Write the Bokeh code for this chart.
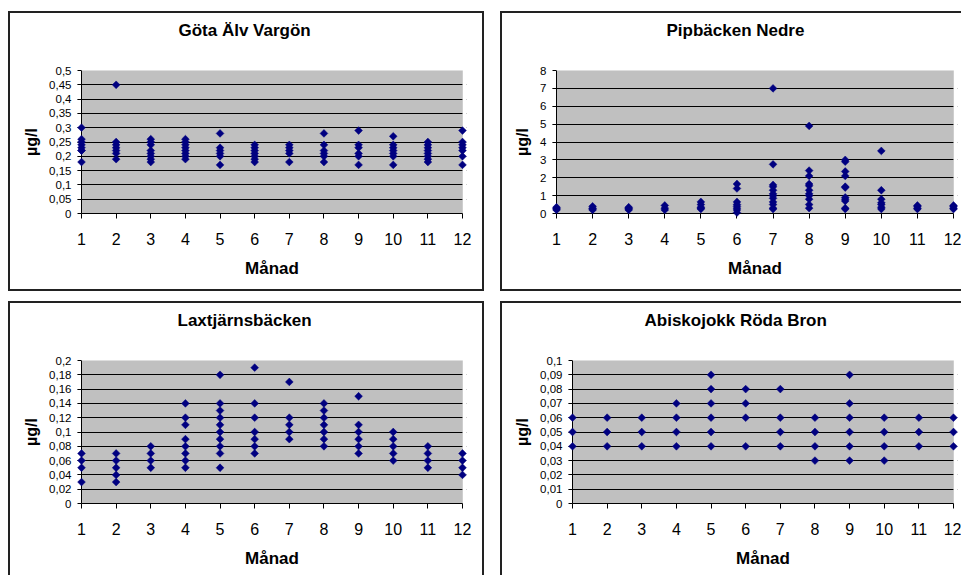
from bokeh.plotting import figure
from bokeh.layouts import column, row
from bokeh.models import BoxAnnotation, FixedTicker, Range1d, Span
from bokeh.embed import file_html
from bokeh.resources import INLINE

# ---------------------------------------------------------------- data
months = list(range(1, 13))
month_labels = [str(m) for m in months]

# measured concentrations per month (µg/l), one inner list per month
goeta_alv_vargon = [
    [0.30, 0.26, 0.25, 0.24, 0.23, 0.22, 0.22, 0.18],
    [0.45, 0.25, 0.24, 0.23, 0.22, 0.21, 0.19],
    [0.26, 0.25, 0.24, 0.22, 0.21, 0.20, 0.19, 0.18],
    [0.26, 0.25, 0.24, 0.23, 0.22, 0.21, 0.20, 0.19],
    [0.28, 0.23, 0.22, 0.21, 0.20, 0.17],
    [0.24, 0.23, 0.22, 0.21, 0.20, 0.19, 0.18],
    [0.24, 0.23, 0.22, 0.21, 0.18],
    [0.28, 0.24, 0.22, 0.21, 0.20, 0.18],
    [0.29, 0.24, 0.23, 0.21, 0.20, 0.17],
    [0.27, 0.24, 0.23, 0.22, 0.21, 0.20, 0.17],
    [0.25, 0.24, 0.23, 0.22, 0.21, 0.20, 0.19, 0.18],
    [0.29, 0.25, 0.24, 0.23, 0.22, 0.20, 0.17],
]

pipbacken_nedre = [
    [0.35, 0.3, 0.25, 0.2],
    [0.4, 0.3, 0.25, 0.2],
    [0.35, 0.3, 0.25, 0.2],
    [0.45, 0.3, 0.2],
    [0.65, 0.5, 0.35, 0.3, 0.25],
    [1.65, 1.4, 0.65, 0.5, 0.4, 0.3, 0.2, 0.05],
    [7.0, 2.75, 1.6, 1.5, 1.3, 1.1, 1.0, 0.85, 0.65, 0.5, 0.3, 0.25],
    [4.9, 2.4, 2.1, 1.65, 1.55, 1.3, 1.1, 1.0, 0.8, 0.5, 0.3],
    [3.0, 2.9, 2.35, 2.1, 1.5, 1.45, 0.9, 0.8, 0.7, 0.3, 0.25],
    [3.5, 1.3, 0.8, 0.6, 0.5, 0.35, 0.25],
    [0.45, 0.4, 0.3, 0.25],
    [0.45, 0.4, 0.3, 0.25],
]

laxtjarnsbacken = [
    [0.07, 0.06, 0.05, 0.03],
    [0.07, 0.06, 0.05, 0.04, 0.03],
    [0.08, 0.07, 0.06, 0.05],
    [0.14, 0.12, 0.11, 0.09, 0.08, 0.07, 0.06, 0.05],
    [0.18, 0.14, 0.13, 0.12, 0.11, 0.10, 0.09, 0.08, 0.07, 0.05],
    [0.19, 0.14, 0.12, 0.10, 0.09, 0.08, 0.07],
    [0.17, 0.12, 0.11, 0.10, 0.09],
    [0.14, 0.13, 0.12, 0.11, 0.10, 0.09, 0.08],
    [0.15, 0.11, 0.10, 0.09, 0.08, 0.07],
    [0.10, 0.09, 0.08, 0.07, 0.06],
    [0.08, 0.07, 0.06, 0.05],
    [0.07, 0.06, 0.05, 0.04],
]

abiskojokk_roda_bron = [
    [0.06, 0.05, 0.04],
    [0.06, 0.05, 0.04],
    [0.06, 0.05, 0.04],
    [0.07, 0.06, 0.05, 0.04],
    [0.09, 0.08, 0.07, 0.06, 0.05, 0.04],
    [0.08, 0.07, 0.06, 0.04],
    [0.08, 0.06, 0.05, 0.04],
    [0.06, 0.05, 0.04, 0.03],
    [0.09, 0.07, 0.06, 0.05, 0.04, 0.03],
    [0.06, 0.05, 0.04, 0.03],
    [0.06, 0.05, 0.04],
    [0.06, 0.05, 0.04],
]

goeta_ticks = [0, 0.05, 0.1, 0.15, 0.2, 0.25, 0.3, 0.35, 0.4, 0.45, 0.5]
goeta_tick_labels = ["0", "0,05", "0,1", "0,15", "0,2", "0,25", "0,3", "0,35", "0,4", "0,45", "0,5"]
pip_ticks = [0, 1, 2, 3, 4, 5, 6, 7, 8]
pip_tick_labels = ["0", "1", "2", "3", "4", "5", "6", "7", "8"]
lax_ticks = [0, 0.02, 0.04, 0.06, 0.08, 0.1, 0.12, 0.14, 0.16, 0.18, 0.2]
lax_tick_labels = ["0", "0,02", "0,04", "0,06", "0,08", "0,1", "0,12", "0,14", "0,16", "0,18", "0,2"]
abisko_ticks = [0, 0.01, 0.02, 0.03, 0.04, 0.05, 0.06, 0.07, 0.08, 0.09, 0.1]
abisko_tick_labels = ["0", "0,01", "0,02", "0,03", "0,04", "0,05", "0,06", "0,07", "0,08", "0,09", "0,1"]

x_title = "Månad"
y_title = "µg/l"

# ---------------------------------------------------------------- style
FONT = "Liberation Sans"
PLOT_GREY = "#C0C0C0"
MARKER = "#000080"
EDGE = "#222222"
PAD_PX = 4  # room so markers at month 1 and 12 are not cut by the frame


def edge_shadow(sides):
    parts = {
        "left": "inset 2px 0 0 0 " + EDGE,
        "right": "inset -2px 0 0 0 " + EDGE,
        "top": "inset 0 2px 0 0 " + EDGE,
        "bottom": "inset 0 -2px 0 0 " + EDGE,
    }
    return ", ".join(parts[s] for s in sides)


def make_panel(title, per_month, ticks, tick_labels, width, height,
               left, right, bottom, title_offset, sides):
    top = 59
    frame_w = width - left - right
    inner = frame_w - 2 * PAD_PX
    pad = PAD_PX * (months[-1] - months[0]) / inner
    x_start, x_end = months[0] - pad, months[-1] + pad
    y_max = ticks[-1]

    xs, ys = [], []
    for m, vals in zip(months, per_month):
        for v in vals:
            xs.append(m)
            ys.append(v)

    p = figure(width=width, height=height, output_backend="svg",
               toolbar_location=None, tools="",
               x_range=Range1d(x_start, x_end), y_range=Range1d(0, y_max),
               min_border_left=left, min_border_right=right,
               min_border_top=top, min_border_bottom=bottom,
               background_fill_color=None, border_fill_color=None,
               outline_line_color=None,
               styles={"box-shadow": edge_shadow(sides)})

    # second (blank) line keeps the heading high above the plot area
    p.title.text = title + "\n "
    p.title.align = "left"
    p.title.offset = title_offset
    p.title.text_font = FONT
    p.title.text_font_size = "17px"
    p.title.text_font_style = "bold"
    p.title.text_color = "black"
    p.title.text_line_height = 1.3
    p.title.standoff = 12

    # grey plot area spanning months 1..12
    p.add_layout(BoxAnnotation(left=months[0], right=months[-1], bottom=0, top=y_max,
                               fill_color=PLOT_GREY, fill_alpha=1, line_color=None,
                               level="image"))

    p.xgrid.grid_line_color = None
    p.ygrid.grid_line_color = "black"
    p.ygrid.grid_line_width = 1
    p.ygrid.ticker = FixedTicker(ticks=ticks)

    # keep gridlines from running past month 12
    p.add_layout(BoxAnnotation(left=months[-1], right=x_end, bottom=0, top=y_max,
                               fill_color="white", fill_alpha=1, line_color=None,
                               level="underlay"))
    p.add_layout(BoxAnnotation(left=months[0], right=months[-1], bottom=0, top=y_max,
                               fill_color=None, line_color="#808080", line_width=1,
                               level="underlay"))
    # value axis line sits at month 1
    p.add_layout(Span(location=months[0], dimension="height", line_color="black",
                      line_width=1, level="underlay"))

    p.scatter(xs, ys, marker="square", angle=0.785398, size=5.5,
              fill_color=MARKER, line_color=MARKER, line_width=0.5, level="overlay")

    xa = p.xaxis[0]
    xa.ticker = FixedTicker(ticks=months)
    xa.major_label_overrides = dict(zip(months, month_labels))
    xa.bounds = (months[0], months[-1])
    xa.axis_line_color = "black"
    xa.major_tick_line_color = "black"
    xa.major_tick_out = 5
    xa.major_tick_in = 0
    xa.minor_tick_line_color = None
    xa.major_label_text_font = FONT
    xa.major_label_text_font_size = "16px"
    xa.major_label_text_color = "black"
    xa.major_label_standoff = 14
    xa.axis_label = x_title
    xa.axis_label_text_font = FONT
    xa.axis_label_text_font_size = "17px"
    xa.axis_label_text_font_style = "bold"
    xa.axis_label_text_color = "black"
    xa.axis_label_standoff = 11

    ya = p.yaxis[0]
    ya.ticker = FixedTicker(ticks=ticks)
    ya.major_label_overrides = dict(zip(ticks, tick_labels))
    ya.axis_line_color = None
    ya.major_tick_line_color = "black"
    ya.major_tick_out = 0
    ya.major_tick_in = PAD_PX
    ya.minor_tick_line_color = None
    ya.major_label_text_font = FONT
    ya.major_label_text_font_size = "11.5px"
    ya.major_label_text_color = "black"
    ya.major_label_standoff = 6
    ya.axis_label = y_title
    ya.axis_label_text_font = FONT
    ya.axis_label_text_font_size = "16px"
    ya.axis_label_text_font_style = "bold"
    ya.axis_label_text_color = "black"
    ya.axis_label_standoff = 6
    return p


p1 = make_panel("Göta Älv Vargön", goeta_alv_vargon, goeta_ticks, goeta_tick_labels,
                476, 280, 69, 18, 78, 101, ["left", "right", "top", "bottom"])
p2 = make_panel("Pipbäcken Nedre", pipbacken_nedre, pip_ticks, pip_tick_labels,
                461, 280, 52, 4, 78, 114, ["left", "top", "bottom"])
p3 = make_panel("Laxtjärnsbäcken", laxtjarnsbacken, lax_ticks, lax_tick_labels,
                476, 274, 69, 18, 72, 100, ["left", "right", "top"])
p4 = make_panel("Abiskojokk Röda Bron", abiskojokk_roda_bron, abisko_ticks, abisko_tick_labels,
                461, 274, 68, 4, 72, 76, ["left", "top"])

layout = column(row(p1, p2, spacing=16), row(p3, p4, spacing=16),
                spacing=10, margin=(11, 0, 0, 8))

open("out.html", "w").write(file_html(layout, INLINE))
